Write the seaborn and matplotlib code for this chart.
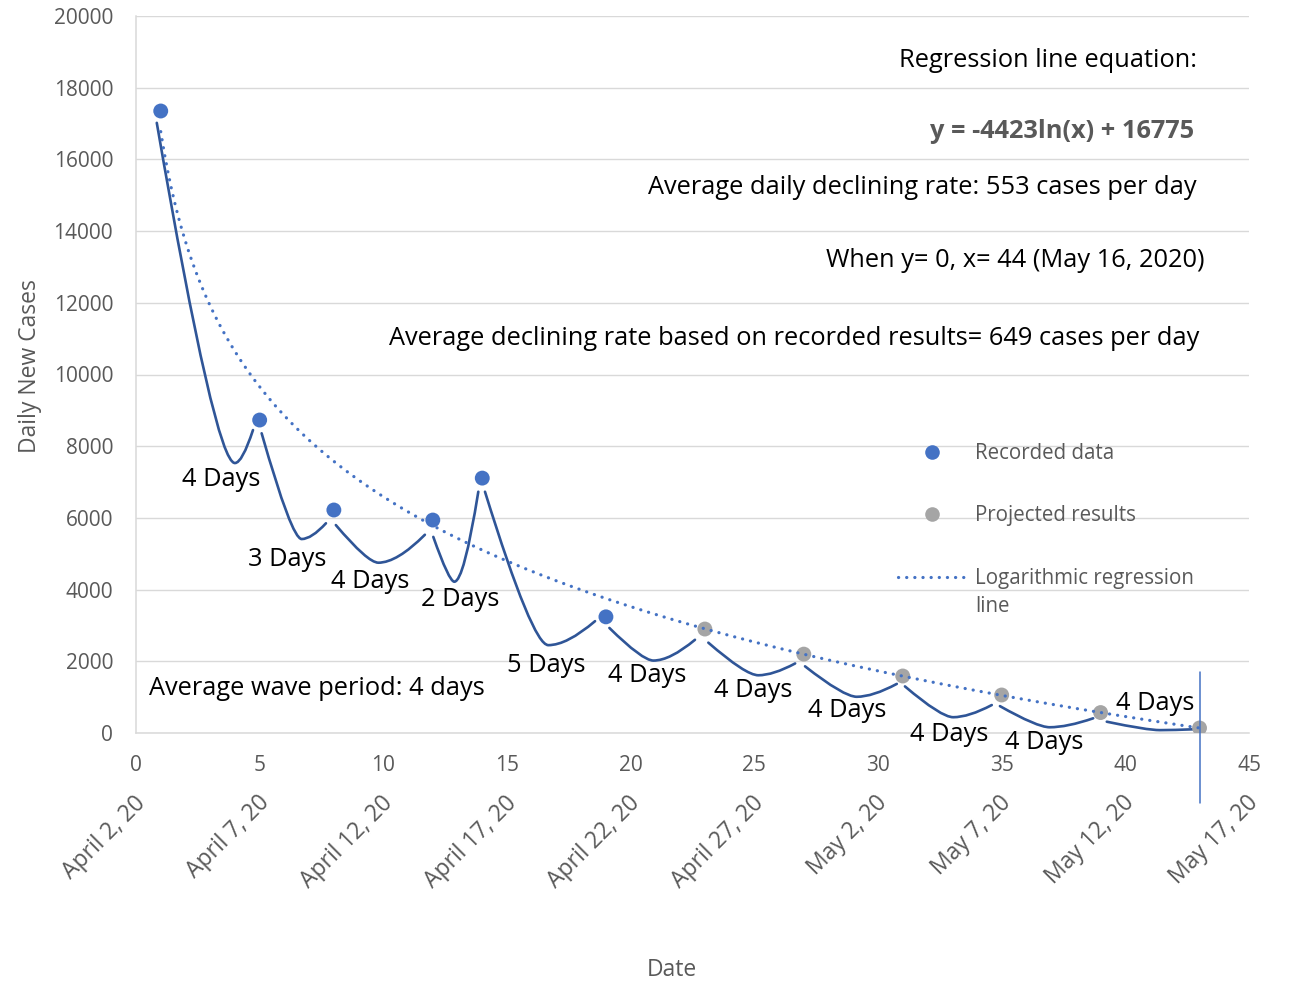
import numpy as np
import pandas as pd
import matplotlib
matplotlib.use("Agg")
import matplotlib.pyplot as plt
import matplotlib.transforms as mtransforms
from matplotlib.path import Path
from matplotlib.patches import PathPatch
from matplotlib.lines import Line2D
import seaborn as sns

# ---------------- data ----------------
recorded_day = [1, 5, 8, 12, 14, 19]
recorded_cases = [17350, 8730, 6220, 5940, 7110, 3240]
projected_day = [23, 27, 31, 35, 39, 43]
projected_cases = [2900, 2200, 1590, 1060, 570, 140]

reg_slope = -4423
reg_intercept = 16775
reg_day_first, reg_day_last = 1, 43

x_ticks = [0, 5, 10, 15, 20, 25, 30, 35, 40, 45]
date_labels = ["April 2, 20", "April 7, 20", "April 12, 20", "April 17, 20",
               "April 22, 20", "April 27, 20", "May 2, 20", "May 7, 20",
               "May 12, 20", "May 17, 20"]
y_ticks = [0, 2000, 4000, 6000, 8000, 10000, 12000, 14000, 16000, 18000, 20000]

# wave arcs drawn between the points (start, trough, end of each arc)
wave_start_day = [0.84, 5.08, 8.08, 12.02, 14.11, 19.14, 23.14, 27.05, 31.09, 34.93, 39.25]
wave_start_cases = [17020, 8360, 5800, 5470, 6730, 2930, 2520, 1860, 1300, 750, 315]
wave_low_day = [4.00, 6.70, 9.80, 12.87, 16.67, 20.92, 25.16, 29.14, 33.04, 36.94, 41.40]
wave_low_cases = [7530, 5410, 4750, 4220, 2450, 2020, 1610, 1010, 440, 160, 80]
wave_end_day = [4.73, 7.68, 11.68, 13.84, 18.56, 22.60, 26.65, 30.76, 34.60, 38.70, 42.82]
wave_end_cases = [8450, 5850, 5530, 6730, 3120, 2600, 1940, 1370, 780, 410, 105]
wave_labels = ["4 Days", "3 Days", "4 Days", "2 Days", "5 Days", "4 Days",
               "4 Days", "4 Days", "4 Days", "4 Days", "4 Days"]

# ---------------- style ----------------
sns.set_theme(style="white")
FONT = ["Open Sans", "DejaVu Sans"]
plt.rcParams["font.family"] = FONT

W, H = 1291, 984
fig = plt.figure(figsize=(W / 100, H / 100), dpi=100)
ax_l, ax_r, ax_t, ax_b = 136, 1249, 16, 733
ax = fig.add_axes([ax_l / W, 1 - ax_b / H, (ax_r - ax_l) / W, (ax_b - ax_t) / H])

BLUE = "#4472C4"
DARK = "#2F5597"
GREY = "#A5A5A5"
TXT = "#595959"
GRID = "#D9D9D9"

# data frames
df_rec = pd.DataFrame({"day": recorded_day, "cases": recorded_cases})
df_proj = pd.DataFrame({"day": projected_day, "cases": projected_cases})
reg_x = np.linspace(reg_day_first, reg_day_last, 300)
df_reg = pd.DataFrame({"day": reg_x, "cases": reg_slope * np.log(reg_x) + reg_intercept})

# wave arcs (quadratic bezier pieces through trough with horizontal tangent)
f_down, f_up = 0.75, 0.4
for sx, sy, lx, ly, ex, ey in zip(wave_start_day, wave_start_cases, wave_low_day,
                                  wave_low_cases, wave_end_day, wave_end_cases):
    verts = [(sx, sy), (sx + f_down * (lx - sx), ly), (lx, ly),
             (lx + f_up * (ex - lx), ly), (ex, ey)]
    codes = [Path.MOVETO, Path.CURVE3, Path.CURVE3, Path.CURVE3, Path.CURVE3]
    ax.add_patch(PathPatch(Path(verts, codes), fill=False, edgecolor=DARK,
                           lw=1.9, capstyle="round", zorder=2))

sns.scatterplot(data=df_rec, x="day", y="cases", color=BLUE, s=115,
                edgecolor="none", linewidth=0, ax=ax, zorder=3, legend=False)
sns.scatterplot(data=df_proj, x="day", y="cases", color=GREY, s=115,
                edgecolor="none", linewidth=0, ax=ax, zorder=3, legend=False)
sns.lineplot(data=df_reg, x="day", y="cases", color=BLUE, lw=2.3,
             linestyle=(0, (0.05, 2.5)), dash_capstyle="round",
             ax=ax, zorder=4, legend=False, sort=False, estimator=None)

# vertical marker line at day 43
ax.axvline(43, ymin=-0.0976, ymax=0.085, color=BLUE, lw=1.1, clip_on=False, zorder=4)

# axes
ax.set_xlim(0, 45)
ax.set_ylim(0, 20000)
ax.set_xticks(x_ticks)
ax.set_yticks(y_ticks)
ax.set_xlabel("")
ax.set_ylabel("")
ax.grid(axis="y", color=GRID, lw=1.0)
ax.grid(axis="x", visible=False)
for s in ["top", "right"]:
    ax.spines[s].set_visible(False)
for s in ["left", "bottom"]:
    ax.spines[s].set_color(GRID)
    ax.spines[s].set_linewidth(1.1)
ax.tick_params(axis="y", length=0, pad=16.5, labelsize=15, labelcolor=TXT)
ax.tick_params(axis="x", direction="inout", length=8.6, width=1.0, color="#CFCFCF",
               pad=11.5, labelsize=15, labelcolor=TXT)

# rotated date labels
trans = mtransforms.blended_transform_factory(ax.transData, ax.transAxes) + \
    mtransforms.ScaledTranslation(-2.5 / 100, 0, fig.dpi_scale_trans)
for xt, lab in zip(x_ticks, date_labels):
    ax.text(xt, -0.0809, lab, transform=trans, rotation=45, rotation_mode="anchor",
            ha="right", va="top", fontsize=16.5, color=TXT, clip_on=False)

fig.text(30 / W, 1 - 366 / H, "Daily New Cases", rotation=90, ha="center", va="center",
         fontsize=16.5, color=TXT)
fig.text(672 / W, 1 - 970 / H, "Date", ha="center", va="center", fontsize=16.5, color=TXT)


def px(xp, yp):
    return ((xp - ax_l) / (ax_r - ax_l), (ax_b - yp) / (ax_b - ax_t))


ANN = 18.3
DY = 2.5
for txt, xr, yc, kw in [
    ("Regression line equation:", 1197, 58, {}),
    ("y = -4423ln(x) + 16775", 1194, 129, {"fontweight": "bold", "color": TXT}),
    ("Average daily declining rate: 553 cases per day", 1197, 185, {}),
    ("When y= 0, x= 44 (May 16, 2020)", 1205, 258, {}),
    ("Average declining rate based on recorded results= 649 cases per day", 1199, 336, {}),
]:
    x0, y0 = px(xr, yc + DY)
    opts = {"color": "black"}
    opts.update(kw)
    ax.text(x0, y0, txt, transform=ax.transAxes, ha="right", va="center",
            fontsize=ANN, **opts)

x0, y0 = px(149, 686 + DY)
ax.text(x0, y0, "Average wave period: 4 days", transform=ax.transAxes, ha="left",
        va="center", fontsize=ANN, color="black")

label_pos = [(182, 477), (248, 557), (331, 579), (421, 597), (507, 663), (608, 673),
             (714, 688), (808, 708), (910, 732), (1005, 740), (1116, 701)]
for lab, (xp_, yp_) in zip(wave_labels, label_pos):
    x0, y0 = px(xp_, yp_ + DY)
    ax.text(x0, y0, lab, transform=ax.transAxes, ha="left", va="center",
            fontsize=ANN, color="black", clip_on=False, zorder=5)

# legend (manual layout)
mx, _ = px(932, 0)
tx, _ = px(975, 0)
for yp_, col in [(452, BLUE), (514, GREY)]:
    _, yy = px(0, yp_)
    ax.add_line(Line2D([mx], [yy], transform=ax.transAxes, marker="o", markersize=10.5,
                       color=col, markeredgewidth=0, linestyle="none", zorder=5))
_, yy = px(0, 577)
lx0, _ = px(898, 0)
lx1, _ = px(966, 0)
ax.add_line(Line2D([lx0, lx1], [yy, yy], transform=ax.transAxes, color=BLUE, lw=2.3,
                   linestyle=(0, (0.05, 2.5)), dash_capstyle="round", zorder=5))
for txt, yp_ in [("Recorded data", 452), ("Projected results", 514),
                 ("Logarithmic regression", 577), ("line", 605)]:
    _, yy = px(0, yp_ + 1.5)
    ax.text(tx, yy, txt, transform=ax.transAxes, ha="left", va="center",
            fontsize=14.8, color=TXT)

fig.savefig("out.png", dpi=100)
